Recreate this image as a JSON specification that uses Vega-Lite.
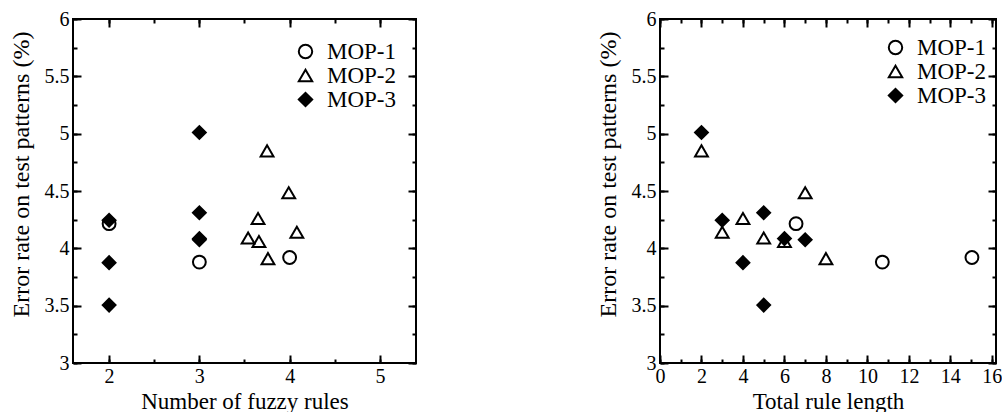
{
  "$schema": "https://vega.github.io/schema/vega-lite/v6.json",
  "background": "white",
  "padding": {"left": 8, "top": 8, "right": 0, "bottom": 0},
  "datasets": {
    "runs": [
      {"method": "MOP-1", "rules": 2, "length": 6.56, "error": 4.215},
      {"method": "MOP-1", "rules": 3, "length": 10.72, "error": 3.88},
      {"method": "MOP-1", "rules": 4, "length": 15.04, "error": 3.92},
      {"method": "MOP-2", "rules": 3.75, "length": 2, "error": 4.85},
      {"method": "MOP-2", "rules": 3.99, "length": 7, "error": 4.485},
      {"method": "MOP-2", "rules": 3.65, "length": 4, "error": 4.26},
      {"method": "MOP-2", "rules": 3.54, "length": 5, "error": 4.09},
      {"method": "MOP-2", "rules": 3.66, "length": 6, "error": 4.06},
      {"method": "MOP-2", "rules": 4.08, "length": 3, "error": 4.14},
      {"method": "MOP-2", "rules": 3.76, "length": 8, "error": 3.91},
      {"method": "MOP-3", "rules": 3, "length": 2, "error": 5.01},
      {"method": "MOP-3", "rules": 2, "length": 3, "error": 4.245},
      {"method": "MOP-3", "rules": 2, "length": 4, "error": 3.875},
      {"method": "MOP-3", "rules": 3, "length": 5, "error": 4.31},
      {"method": "MOP-3", "rules": 2, "length": 5, "error": 3.505},
      {"method": "MOP-3", "rules": 3, "length": 6, "error": 4.085},
      {"method": "MOP-3", "rules": 3, "length": 7, "error": 4.075}
    ]
  },
  "data": {"name": "runs"},
  "bounds": "flush",
  "spacing": 244,
  "hconcat": [
    {
      "width": 343,
      "height": 344,
      "layer": [
        {
          "mark": {"type": "point", "filled": true, "opacity": 1, "strokeWidth": 2, "size": 165},
          "encoding": {
            "x": {"field": "rules", "type": "quantitative",
                  "scale": {"domain": [1.6, 5.4], "nice": false, "zero": false},
                  "axis": {"orient": "bottom", "values": [2, 3, 4, 5], "format": "~g", "tickSize": -8, "labelPadding": 11,
                           "title": "Number of fuzzy rules", "titleFontSize": 23, "titleY": 45, "titleBaseline": "alphabetic"}},
            "y": {"field": "error", "type": "quantitative",
                  "scale": {"domain": [3, 6], "nice": false, "zero": false},
                  "axis": {"orient": "left", "values": [3, 3.5, 4, 4.5, 5, 5.5, 6], "format": "~g", "tickSize": -8, "labelPadding": 12,
                           "title": "Error rate on test patterns (%)", "titleFontSize": 24, "titleX": -45, "titleY": 155, "titleAngle": -90, "titleBaseline": "alphabetic"}},
            "shape": {"field": "method", "type": "nominal",
                      "scale": {"domain": ["MOP-1", "MOP-2", "MOP-3"], "range": ["circle", "triangle-up", "diamond"]},
                      "legend": {"orient": "none", "legendX": 221, "legendY": 21}},
            "fill": {"field": "method", "type": "nominal",
                     "scale": {"domain": ["MOP-1", "MOP-2", "MOP-3"], "range": ["transparent", "transparent", "black"]},
                     "legend": {"orient": "none", "legendX": 221, "legendY": 21}},
            "stroke": {"field": "method", "type": "nominal",
                       "scale": {"domain": ["MOP-1", "MOP-2", "MOP-3"], "range": ["black", "black", "black"]},
                       "legend": {"orient": "none", "legendX": 221, "legendY": 21}}
          }
        },
        {
          "mark": {"type": "point", "opacity": 0},
          "encoding": {
            "x": {"field": "rules", "type": "quantitative",
                  "axis": {"orient": "bottom", "values": [2, 2.5, 3, 3.5, 4, 4.5, 5], "tickSize": -4, "labels": false, "title": null}},
            "y": {"field": "error", "type": "quantitative",
                  "axis": {"orient": "left", "values": [3, 3.25, 3.5, 3.75, 4, 4.25, 4.5, 4.75, 5, 5.25, 5.5, 5.75, 6], "tickSize": -4, "labels": false, "title": null}}
          }
        },
        {
          "mark": {"type": "point", "opacity": 0},
          "encoding": {
            "x": {"field": "rules", "type": "quantitative",
                  "axis": {"orient": "top", "values": [2, 3, 4, 5], "tickSize": -8, "labels": false, "title": null}},
            "y": {"field": "error", "type": "quantitative",
                  "axis": {"orient": "right", "values": [3, 3.5, 4, 4.5, 5, 5.5, 6], "tickSize": -8, "labels": false, "title": null}}
          }
        },
        {
          "mark": {"type": "point", "opacity": 0},
          "encoding": {
            "x": {"field": "rules", "type": "quantitative",
                  "axis": {"orient": "top", "values": [2, 2.5, 3, 3.5, 4, 4.5, 5], "tickSize": -4, "labels": false, "title": null}},
            "y": {"field": "error", "type": "quantitative",
                  "axis": {"orient": "right", "values": [3, 3.25, 3.5, 3.75, 4, 4.25, 4.5, 4.75, 5, 5.25, 5.5, 5.75, 6], "tickSize": -4, "labels": false, "title": null}}
          }
        }
      ],
      "resolve": {"axis": {"x": "independent", "y": "independent"}}
    },
    {
      "width": 336,
      "height": 344,
      "layer": [
        {
          "mark": {"type": "point", "filled": true, "opacity": 1, "strokeWidth": 2, "size": 165},
          "encoding": {
            "x": {"field": "length", "type": "quantitative",
                  "scale": {"domain": [0, 16.2], "nice": false, "zero": false},
                  "axis": {"orient": "bottom", "values": [0, 2, 4, 6, 8, 10, 12, 14, 16], "format": "~g", "tickSize": -8, "labelPadding": 11,
                           "title": "Total rule length", "titleFontSize": 23, "titleY": 45, "titleBaseline": "alphabetic"}},
            "y": {"field": "error", "type": "quantitative",
                  "scale": {"domain": [3, 6], "nice": false, "zero": false},
                  "axis": {"orient": "left", "values": [3, 3.5, 4, 4.5, 5, 5.5, 6], "format": "~g", "tickSize": -8, "labelPadding": 12,
                           "title": "Error rate on test patterns (%)", "titleFontSize": 24, "titleX": -45, "titleY": 155, "titleAngle": -90, "titleBaseline": "alphabetic"}},
            "shape": {"field": "method", "type": "nominal",
                      "scale": {"domain": ["MOP-1", "MOP-2", "MOP-3"], "range": ["circle", "triangle-up", "diamond"]},
                      "legend": {"orient": "none", "legendX": 224, "legendY": 17}},
            "fill": {"field": "method", "type": "nominal",
                     "scale": {"domain": ["MOP-1", "MOP-2", "MOP-3"], "range": ["transparent", "transparent", "black"]},
                     "legend": {"orient": "none", "legendX": 224, "legendY": 17}},
            "stroke": {"field": "method", "type": "nominal",
                       "scale": {"domain": ["MOP-1", "MOP-2", "MOP-3"], "range": ["black", "black", "black"]},
                       "legend": {"orient": "none", "legendX": 224, "legendY": 17}}
          }
        },
        {
          "mark": {"type": "point", "opacity": 0},
          "encoding": {
            "x": {"field": "length", "type": "quantitative",
                  "axis": {"orient": "bottom", "values": [0, 1, 2, 3, 4, 5, 6, 7, 8, 9, 10, 11, 12, 13, 14, 15, 16], "tickSize": -4, "labels": false, "title": null}},
            "y": {"field": "error", "type": "quantitative",
                  "axis": {"orient": "left", "values": [3, 3.25, 3.5, 3.75, 4, 4.25, 4.5, 4.75, 5, 5.25, 5.5, 5.75, 6], "tickSize": -4, "labels": false, "title": null}}
          }
        },
        {
          "mark": {"type": "point", "opacity": 0},
          "encoding": {
            "x": {"field": "length", "type": "quantitative",
                  "axis": {"orient": "top", "values": [0, 2, 4, 6, 8, 10, 12, 14, 16], "tickSize": -8, "labels": false, "title": null}},
            "y": {"field": "error", "type": "quantitative",
                  "axis": {"orient": "right", "values": [3, 3.5, 4, 4.5, 5, 5.5, 6], "tickSize": -8, "labels": false, "title": null}}
          }
        },
        {
          "mark": {"type": "point", "opacity": 0},
          "encoding": {
            "x": {"field": "length", "type": "quantitative",
                  "axis": {"orient": "top", "values": [0, 1, 2, 3, 4, 5, 6, 7, 8, 9, 10, 11, 12, 13, 14, 15, 16], "tickSize": -4, "labels": false, "title": null}},
            "y": {"field": "error", "type": "quantitative",
                  "axis": {"orient": "right", "values": [3, 3.25, 3.5, 3.75, 4, 4.25, 4.5, 4.75, 5, 5.25, 5.5, 5.75, 6], "tickSize": -4, "labels": false, "title": null}}
          }
        }
      ],
      "resolve": {"axis": {"x": "independent", "y": "independent"}}
    }
  ],
  "resolve": {
    "scale": {"shape": "independent", "fill": "independent", "stroke": "independent"},
    "legend": {"shape": "independent", "fill": "independent", "stroke": "independent"}
  },
  "config": {
    "view": {"stroke": "black", "strokeWidth": 2},
    "axis": {
      "grid": false, "domain": false,
      "tickColor": "black", "tickWidth": 2,
      "labelFont": "Liberation Serif", "labelFontSize": 20, "labelColor": "black", "labelFlush": false, "labelOverlap": false,
      "titleFont": "Liberation Serif", "titleFontWeight": "normal", "titleColor": "black"
    },
    "legend": {
      "title": null, "padding": 0,
      "labelFont": "Liberation Serif", "labelFontSize": 23, "labelColor": "black",
      "symbolStrokeWidth": 2, "symbolSize": 180,
      "labelOffset": 10, "rowPadding": 0
    }
  }
}
